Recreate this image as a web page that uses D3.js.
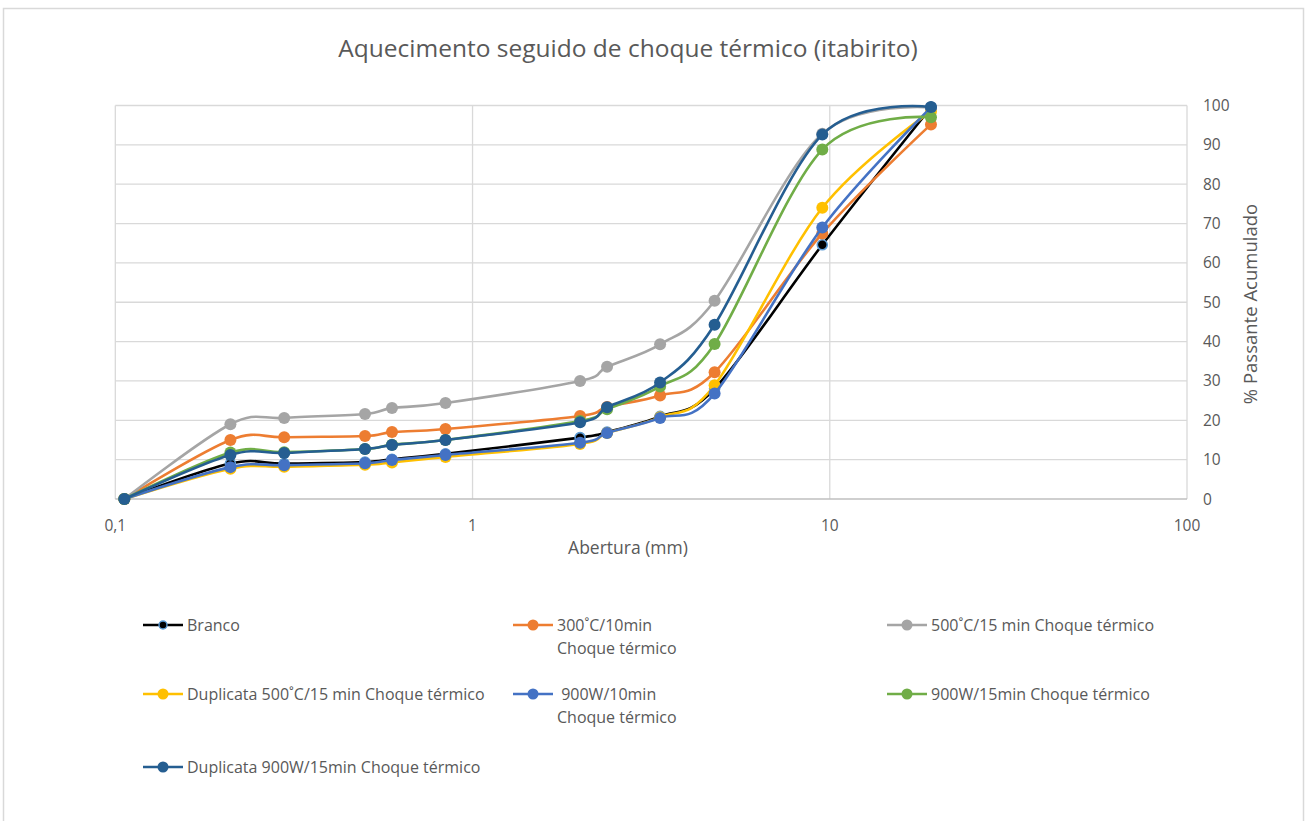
<!DOCTYPE html>
<html>
<head>
<meta charset="utf-8">
<script src="https://cdn.jsdelivr.net/npm/d3@7/dist/d3.min.js"></script>
<style>
  html, body { margin: 0; padding: 0; background: #fff; }
  svg { display: block; font-family: "Open Sans", "Noto Sans", sans-serif; }
</style>
</head>
<body>
<svg id="chart" width="1309" height="821"></svg>
<script>
// Sieve apertures (mm)
const aperture = [0.106, 0.21, 0.297, 0.5, 0.595, 0.84, 2.0, 2.38, 3.35, 4.76, 9.53, 19.2];

// Cumulative passing (%) for each treatment
const branco        = [0, 9.0, 9.0, 9.4, 10.1, 11.5, 15.6, 17.0, 21.0, 28.0, 64.6, 99.5];
const t300_10       = [0, 15.0, 15.7, 16.0, 17.0, 17.8, 21.1, 23.4, 26.3, 32.2, 67.5, 95.2];
const t500_15       = [0, 19.0, 20.6, 21.6, 23.1, 24.4, 30.0, 33.6, 39.3, 50.4, 92.8, 99.5];
const dup500_15     = [0, 7.7, 8.2, 8.7, 9.3, 10.7, 14.0, 16.8, 20.8, 28.9, 74.0, 98.5];
const w900_10       = [0, 8.1, 8.6, 9.1, 9.9, 11.2, 14.3, 16.8, 20.6, 26.8, 69.0, 99.5];
const w900_15       = [0, 11.8, 11.9, 12.7, 13.8, 15.0, 19.8, 22.8, 28.6, 39.4, 88.8, 97.0];
const dup900_15     = [0, 11.2, 11.7, 12.7, 13.7, 15.0, 19.5, 23.3, 29.6, 44.3, 92.6, 99.6];

const seriesNames = [
  ["Branco"],
  ["300˚C/10min", "Choque térmico"],
  ["500˚C/15 min Choque térmico"],
  ["Duplicata 500˚C/15 min Choque térmico"],
  [" 900W/10min", "Choque térmico"],
  ["900W/15min Choque térmico"],
  ["Duplicata 900W/15min Choque térmico"]
];
const seriesValues = [branco, t300_10, t500_15, dup500_15, w900_10, w900_15, dup900_15];
const seriesColors = ["#000000", "#ED7D31", "#A5A5A5", "#FFC000", "#4472C4", "#70AD47", "#255E91"];

const xTicks = [0.1, 1, 10, 100];
const xTickLabels = ["0,1", "1", "10", "100"];
const yTicks = d3.range(0, 101, 10);

const titleText = "Aquecimento seguido de choque térmico (itabirito)";
const xTitle = "Abertura (mm)";
const yTitle = "% Passante Acumulado";

const svg = d3.select("#chart");
const textColor = "#595959";
const gridColor = "#D9D9D9";

// Outer chart frame
svg.append("rect")
  .attr("x", 3.5).attr("y", 8.5).attr("width", 1300).attr("height", 830)
  .attr("fill", "#fff").attr("stroke", "#D9D9D9").attr("stroke-width", 1.5);

const x = d3.scaleLog().domain([0.1, 100]).range([115.3, 1187]);
const y = d3.scaleLinear().domain([0, 100]).range([499, 105.5]);

// Title
svg.append("text")
  .attr("x", 628).attr("y", 57)
  .attr("text-anchor", "middle")
  .attr("font-size", 24.5)
  .attr("fill", textColor)
  .text(titleText);

// Horizontal gridlines
svg.append("g").selectAll("line").data(yTicks.filter(d => d > 0)).join("line")
  .attr("x1", x(0.1)).attr("x2", x(100))
  .attr("y1", d => y(d)).attr("y2", d => y(d))
  .attr("stroke", gridColor).attr("stroke-width", 1.3);

// Vertical gridlines at each decade
svg.append("g").selectAll("line").data(xTicks).join("line")
  .attr("x1", d => x(d)).attr("x2", d => x(d))
  .attr("y1", y(100)).attr("y2", y(0))
  .attr("stroke", gridColor).attr("stroke-width", 1.3);

// Bottom axis line
svg.append("line")
  .attr("x1", x(0.1)).attr("x2", x(100))
  .attr("y1", y(0)).attr("y2", y(0))
  .attr("stroke", "#BFBFBF").attr("stroke-width", 1.3);

// X tick labels
svg.append("g").selectAll("text").data(xTicks).join("text")
  .attr("x", d => x(d)).attr("y", 531)
  .attr("text-anchor", "middle")
  .attr("font-size", 15.5)
  .attr("fill", textColor)
  .text((d, i) => xTickLabels[i]);

// Y tick labels (right side)
svg.append("g").selectAll("text").data(yTicks).join("text")
  .attr("x", 1203).attr("y", d => y(d) + 5.5)
  .attr("font-size", 15.5)
  .attr("fill", textColor)
  .text(d => d);

// Axis titles
svg.append("text")
  .attr("x", 628).attr("y", 554)
  .attr("text-anchor", "middle")
  .attr("font-size", 17.5)
  .attr("fill", textColor)
  .text(xTitle);

svg.append("text")
  .attr("transform", "translate(1257,304) rotate(-90)")
  .attr("text-anchor", "middle")
  .attr("font-size", 18.5)
  .attr("fill", textColor)
  .text(yTitle);

// Smoothed series lines and markers
const line = d3.line()
  .x((d, i) => x(aperture[i]))
  .y(d => y(d))
  .curve(d3.curveCardinal.tension(0));

const plot = svg.append("g");
seriesValues.forEach((vals, s) => {
  const g = plot.append("g");
  g.append("path")
    .attr("d", line(vals))
    .attr("fill", "none")
    .attr("stroke", seriesColors[s])
    .attr("stroke-width", 2.6)
    .attr("stroke-linejoin", "round");
  g.selectAll("circle").data(vals).join("circle")
    .attr("cx", (d, i) => x(aperture[i]))
    .attr("cy", d => y(d))
    .attr("r", s === 0 ? 5 : 6)
    .attr("fill", seriesColors[s])
    .attr("stroke", s === 0 ? "#5B9BD5" : "none")
    .attr("stroke-width", s === 0 ? 1.6 : 0);
});

// Legend: three columns
const legendPos = [
  [143, 625], [513, 625], [887, 625],
  [143, 694], [513, 694], [887, 694],
  [143, 767]
];
const legend = svg.append("g");
seriesNames.forEach((lines, s) => {
  const [lx, ly] = legendPos[s];
  const g = legend.append("g");
  g.append("line")
    .attr("x1", lx).attr("x2", lx + 40)
    .attr("y1", ly).attr("y2", ly)
    .attr("stroke", seriesColors[s]).attr("stroke-width", 2.6);
  g.append("circle")
    .attr("cx", lx + 20).attr("cy", ly)
    .attr("r", s === 0 ? 4 : 5.5)
    .attr("fill", seriesColors[s])
    .attr("stroke", s === 0 ? "#5B9BD5" : "none")
    .attr("stroke-width", s === 0 ? 1.4 : 0);
  const t = g.append("text")
    .attr("x", lx + 44).attr("y", ly + 5.5)
    .attr("font-size", 16)
    .attr("fill", textColor)
    .attr("xml:space", "preserve");
  lines.forEach((str, k) => {
    t.append("tspan")
      .attr("x", lx + 44)
      .attr("dy", k === 0 ? 0 : 23)
      .text(str);
  });
});
</script>
</body>
</html>
